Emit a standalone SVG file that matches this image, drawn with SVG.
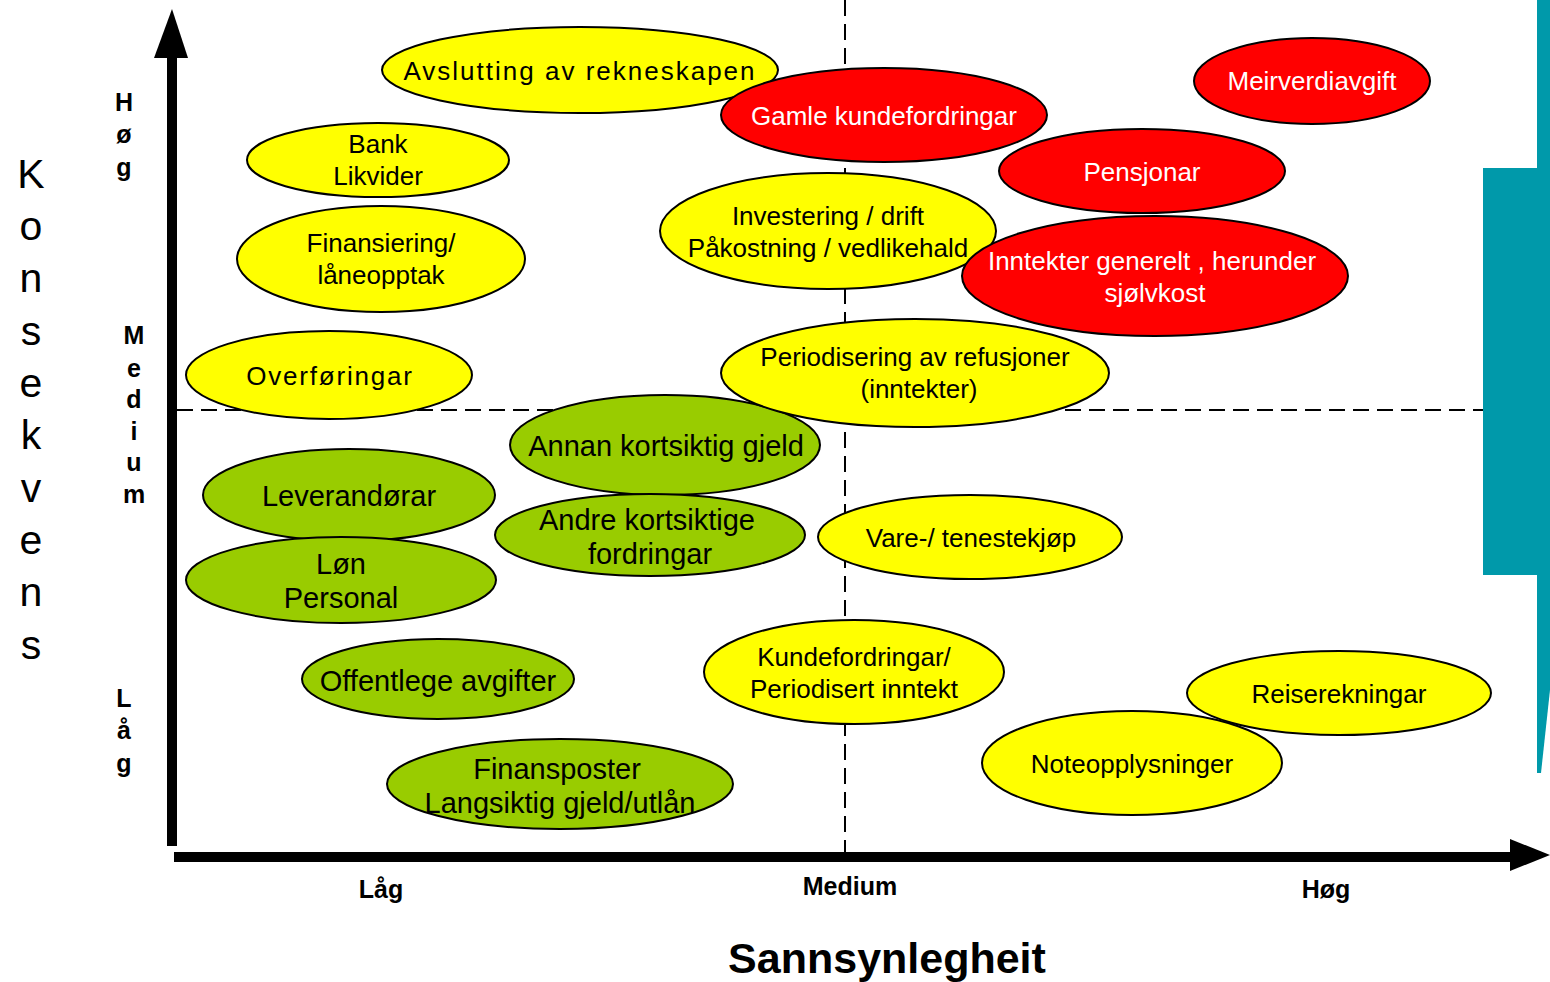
<svg xmlns="http://www.w3.org/2000/svg" width="1550" height="982" viewBox="0 0 1550 982">
<style>
.y{fill:#FFFF00;stroke:#000;stroke-width:2}
.r{fill:#FF0000;stroke:#000;stroke-width:2}
.g{fill:#99CC00;stroke:#000;stroke-width:2}
text{font-family:"Liberation Sans",Arial,sans-serif;text-anchor:middle}
.t{font-size:26px;fill:#000}
.tg{font-size:29px;fill:#000}
.w{font-size:26px;fill:#fff}
.b{font-size:25px;font-weight:bold;fill:#000}
.k{font-size:41px;fill:#000}
.dash{stroke:#000;stroke-width:2;stroke-dasharray:16 8;fill:none}
</style>
<rect width="1550" height="982" fill="#fff"/>
<g id="teal">
<rect x="1483" y="168" width="60" height="407" fill="#0099AA"/>
<polygon points="1537,0 1550,0 1550,690 1541,773 1537,773" fill="#0099AA"/>
</g>
<g id="gridlines">
<line class="dash" x1="845" y1="0" x2="845" y2="852"/>
<line class="dash" x1="177" y1="410" x2="1483" y2="410"/>
</g>
<g id="axes">
<rect x="167" y="56" width="10" height="790" fill="#000"/>
<polygon points="172,9 154,58 188,58" fill="#000"/>
<rect x="174" y="852" width="1338" height="10" fill="#000"/>
<polygon points="1550,855 1510,839 1510,871" fill="#000"/>
</g>
<g id="n-avslutting"><ellipse class="y" cx="580" cy="70" rx="198" ry="43"/><text class="t" x="580" y="80" letter-spacing="2">Avslutting av rekneskapen</text></g>
<g id="n-gamle"><ellipse class="r" cx="884" cy="115" rx="163" ry="47"/><text class="w" x="884" y="125">Gamle kundefordringar</text></g>
<g id="n-meirverdi"><ellipse class="r" cx="1312" cy="81" rx="118" ry="43"/><text class="w" x="1312" y="90">Meirverdiavgift</text></g>
<g id="n-pensjonar"><ellipse class="r" cx="1142" cy="171" rx="143" ry="42"/><text class="w" x="1142" y="181">Pensjonar</text></g>
<g id="n-bank"><ellipse class="y" cx="378" cy="160" rx="131" ry="37"/><text class="t" x="378" y="153">Bank</text><text class="t" x="378" y="185">Likvider</text></g>
<g id="n-investering"><ellipse class="y" cx="828" cy="231" rx="168" ry="58"/><text class="t" x="828" y="225">Investering / drift</text><text class="t" x="828" y="257">Påkostning / vedlikehald</text></g>
<g id="n-inntekter"><ellipse class="r" cx="1155" cy="276" rx="193" ry="60"/><text class="w" x="1152" y="270">Inntekter generelt , herunder</text><text class="w" x="1155" y="302">sjølvkost</text></g>
<g id="n-finansiering"><ellipse class="y" cx="381" cy="259" rx="144" ry="53"/><text class="t" x="381" y="252">Finansiering/</text><text class="t" x="381" y="284">låneopptak</text></g>
<g id="n-overforingar"><ellipse class="y" cx="329" cy="375" rx="143" ry="44"/><text class="t" x="330" y="385" letter-spacing="1.8">Overføringar</text></g>
<g id="n-annan"><ellipse class="g" cx="665" cy="445" rx="155" ry="50"/><text class="tg" x="666" y="456">Annan kortsiktig gjeld</text></g>
<g id="n-periodisering"><ellipse class="y" cx="915" cy="373" rx="194" ry="54"/><text class="t" x="915" y="366">Periodisering av refusjoner</text><text class="t" x="919" y="398">(inntekter)</text></g>
<g id="n-leverandorar"><ellipse class="g" cx="349" cy="495" rx="146" ry="46"/><text class="tg" x="349" y="506">Leverandørar</text></g>
<g id="n-lon"><ellipse class="g" cx="341" cy="580" rx="155" ry="43"/><text class="tg" x="341" y="574">Løn</text><text class="tg" x="341" y="608">Personal</text></g>
<g id="n-andre"><ellipse class="g" cx="650" cy="535" rx="155" ry="41"/><text class="tg" x="647" y="530">Andre kortsiktige</text><text class="tg" x="650" y="564">fordringar</text></g>
<g id="n-vare"><ellipse class="y" cx="970" cy="537" rx="152" ry="42"/><text class="t" x="971" y="547">Vare-/ tenestekjøp</text></g>
<g id="n-offentlege"><ellipse class="g" cx="438" cy="679" rx="136" ry="40"/><text class="tg" x="438" y="691">Offentlege avgifter</text></g>
<g id="n-kundefordringar"><ellipse class="y" cx="854" cy="672" rx="150" ry="52"/><text class="t" x="854" y="666">Kundefordringar/</text><text class="t" x="854" y="698">Periodisert inntekt</text></g>
<g id="n-reise"><ellipse class="y" cx="1339" cy="693" rx="152" ry="42"/><text class="t" x="1339" y="703">Reiserekningar</text></g>
<g id="n-note"><ellipse class="y" cx="1132" cy="763" rx="150" ry="52"/><text class="t" x="1132" y="773">Noteopplysninger</text></g>
<g id="n-finansposter"><ellipse class="g" cx="560" cy="784" rx="173" ry="45"/><text class="tg" x="557" y="779">Finansposter</text><text class="tg" x="560" y="813">Langsiktig gjeld/utlån</text></g>
<g id="labels">
<text class="b" x="381" y="898">Låg</text>
<text class="b" x="850" y="895">Medium</text>
<text class="b" x="1326" y="898">Høg</text>
<text x="887" y="973" style="font-size:43px;font-weight:bold">Sannsynlegheit</text>
<text class="b" x="124" y="111">H</text><text class="b" x="124" y="143">ø</text><text class="b" x="124" y="176">g</text>
<text class="b" x="134" y="344">M</text><text class="b" x="134" y="377">e</text><text class="b" x="134" y="408">d</text><text class="b" x="134" y="440">i</text><text class="b" x="134" y="471">u</text><text class="b" x="134" y="503">m</text>
<text class="b" x="124" y="707">L</text><text class="b" x="124" y="739">å</text><text class="b" x="124" y="772">g</text>
<text class="k" x="31" y="188">K</text><text class="k" x="31" y="240">o</text><text class="k" x="31" y="292">n</text><text class="k" x="31" y="345">s</text><text class="k" x="31" y="397">e</text><text class="k" x="31" y="449">k</text><text class="k" x="31" y="502">v</text><text class="k" x="31" y="554">e</text><text class="k" x="31" y="606">n</text><text class="k" x="31" y="659">s</text>
</g>
</svg>
